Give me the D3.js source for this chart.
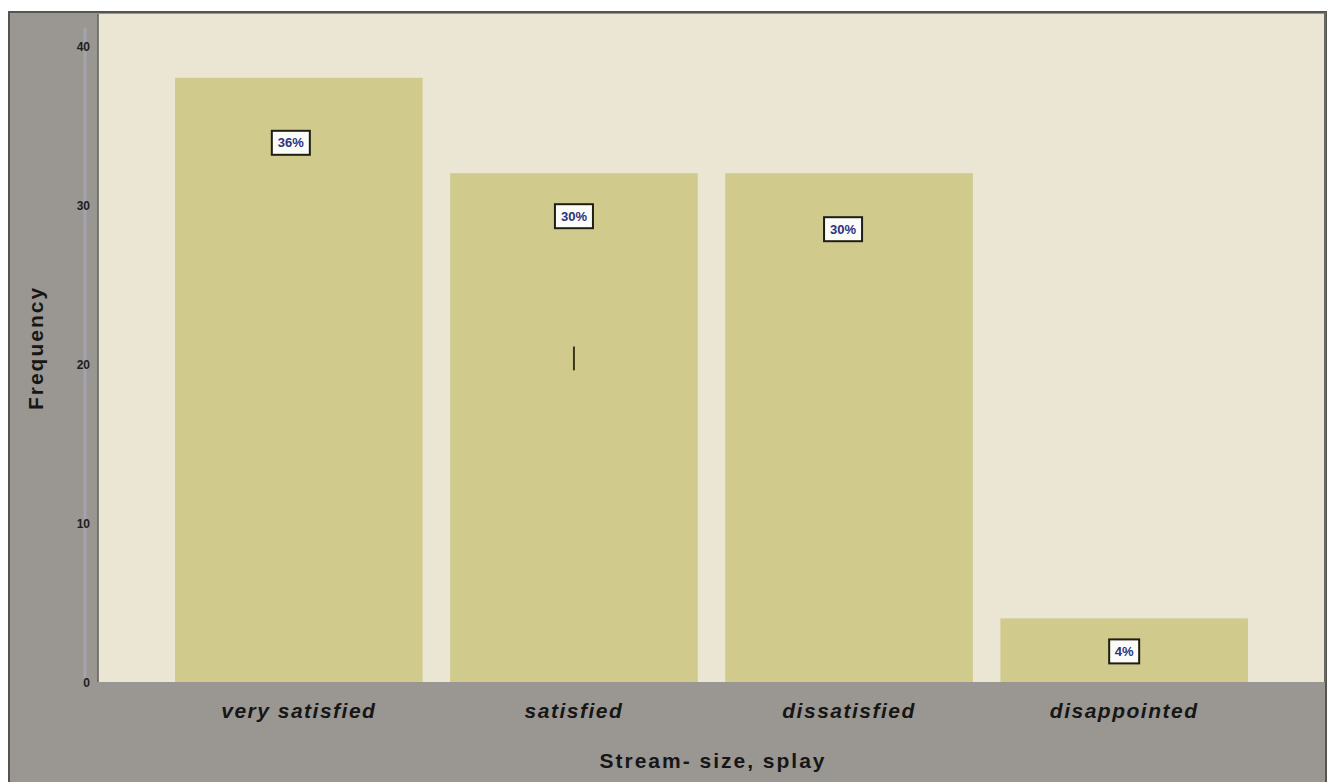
<!DOCTYPE html>
<html>
<head>
<meta charset="utf-8">
<script src="https://cdn.jsdelivr.net/npm/d3@7/dist/d3.min.js"></script>
<style>
  html, body { margin: 0; padding: 0; background: #ffffff; }
  svg { display: block; }
  text { font-family: "Liberation Sans", Arial, sans-serif; }
</style>
</head>
<body>
<svg id="chart" width="1333" height="782"></svg>
<script>
// Survey answers and their counts
const categories = ["very satisfied", "satisfied", "dissatisfied", "disappointed"];
const frequencies = [38, 32, 32, 4];
const percentLabels = ["36%", "30%", "30%", "4%"];
const yTicks = [0, 10, 20, 30, 40];
const xTitle = "Stream- size, splay";
const yTitle = "Frequency";

const W = 1333, H = 782;
const frame = { left: 9, top: 12, right: 1326, bottom: 782 };
const plot = { left: 98, top: 14, right: 1325, bottom: 682 };

const svg = d3.select("#chart");

// Outer grey panel with a dark rim
svg.append("rect")
  .attr("x", frame.left).attr("y", frame.top)
  .attr("width", frame.right - frame.left).attr("height", frame.bottom - frame.top + 2)
  .attr("fill", "#9a9692")
  .attr("stroke", "#55554f").attr("stroke-width", 2);

// Plot background
svg.append("rect")
  .attr("x", plot.left).attr("y", plot.top)
  .attr("width", plot.right - plot.left).attr("height", plot.bottom - plot.top)
  .attr("fill", "#ebe5d3");
svg.append("line")
  .attr("x1", plot.left).attr("x2", plot.left)
  .attr("y1", plot.top).attr("y2", plot.bottom)
  .attr("stroke", "#5f5f58").attr("stroke-width", 1.5);
svg.append("line")
  .attr("x1", plot.right).attr("x2", plot.right)
  .attr("y1", plot.top - 2).attr("y2", plot.bottom)
  .attr("stroke", "#6a6a62").attr("stroke-width", 2);

const x = d3.scaleBand()
  .domain(categories)
  .range([plot.left, plot.right])
  .paddingInner(0.1)
  .paddingOuter(0.28);

const y = d3.scaleLinear()
  .domain([0, 40])
  .range([plot.bottom, 46]);

// Bars
const rows = categories.map((c, i) => ({ c, v: frequencies[i], p: percentLabels[i] }));
svg.append("g").selectAll("rect")
  .data(rows)
  .join("rect")
  .attr("x", d => x(d.c))
  .attr("y", d => y(d.v))
  .attr("width", x.bandwidth())
  .attr("height", d => y(0) - y(d.v))
  .attr("fill", "#d0ca8c");

// Y axis: pale rule with small numbers
svg.append("line")
  .attr("x1", 85).attr("x2", 85)
  .attr("y1", 28).attr("y2", plot.bottom)
  .attr("stroke", "#a3a3ad").attr("stroke-width", 3);

const yAxis = d3.axisLeft(y).tickValues(yTicks).tickSize(0).tickPadding(0);
const gy = svg.append("g").attr("transform", "translate(90,0)").call(yAxis);
gy.select(".domain").remove();
gy.selectAll("text")
  .attr("font-family", "Liberation Sans, Arial, sans-serif")
  .attr("font-size", 12)
  .attr("font-weight", "bold")
  .attr("fill", "#1e1e1e")
  .attr("dy", "0.4em");

// Category labels
const xAxis = d3.axisBottom(x).tickSize(0).tickPadding(0);
const gx = svg.append("g").attr("transform", `translate(0,${plot.bottom})`).call(xAxis);
gx.select(".domain").remove();
gx.selectAll("text")
  .attr("font-family", "Liberation Sans, Arial, sans-serif")
  .attr("font-size", 21)
  .attr("font-weight", "bold")
  .attr("font-style", "italic")
  .attr("letter-spacing", 1.5)
  .attr("fill", "#161616")
  .attr("dy", 0)
  .attr("y", 36);

// Axis titles
svg.append("text")
  .attr("x", 713)
  .attr("y", 768)
  .attr("text-anchor", "middle")
  .attr("font-size", 21)
  .attr("font-weight", "bold")
  .attr("letter-spacing", 2)
  .attr("fill", "#161616")
  .text(xTitle);

svg.append("text")
  .attr("transform", "translate(43,348) rotate(-90)")
  .attr("text-anchor", "middle")
  .attr("font-size", 21)
  .attr("font-weight", "bold")
  .attr("letter-spacing", 2)
  .attr("fill", "#161616")
  .text(yTitle);

// Percentage call-outs inside the bars (pixel nudges below each bar top)
const labelNudge = [{ dx: -8, dy: 65 }, { dx: 0, dy: 43 }, { dx: -6, dy: 56 }, { dx: 0, dy: 33 }];
const boxes = svg.append("g").selectAll("g")
  .data(rows)
  .join("g")
  .attr("transform", (d, i) =>
    `translate(${x(d.c) + x.bandwidth() / 2 + labelNudge[i].dx},${y(d.v) + labelNudge[i].dy})`);

boxes.append("rect")
  .attr("x", d => d.p.length > 2 ? -19 : -15)
  .attr("y", -12)
  .attr("width", d => d.p.length > 2 ? 38 : 30)
  .attr("height", 24)
  .attr("fill", "#fbfbf7")
  .attr("stroke", "#1e1e14")
  .attr("stroke-width", 2);

boxes.append("text")
  .attr("text-anchor", "middle")
  .attr("dy", "0.35em")
  .attr("font-size", 13)
  .attr("font-weight", "bold")
  .attr("fill", "#2c3180")
  .text(d => d.p);

// Small dark stroke inside the "satisfied" bar
svg.append("line")
  .attr("x1", x("satisfied") + x.bandwidth() / 2)
  .attr("x2", x("satisfied") + x.bandwidth() / 2)
  .attr("y1", y(21.1)).attr("y2", y(19.6))
  .attr("stroke", "#3a3818").attr("stroke-width", 2);
</script>
</body>
</html>
